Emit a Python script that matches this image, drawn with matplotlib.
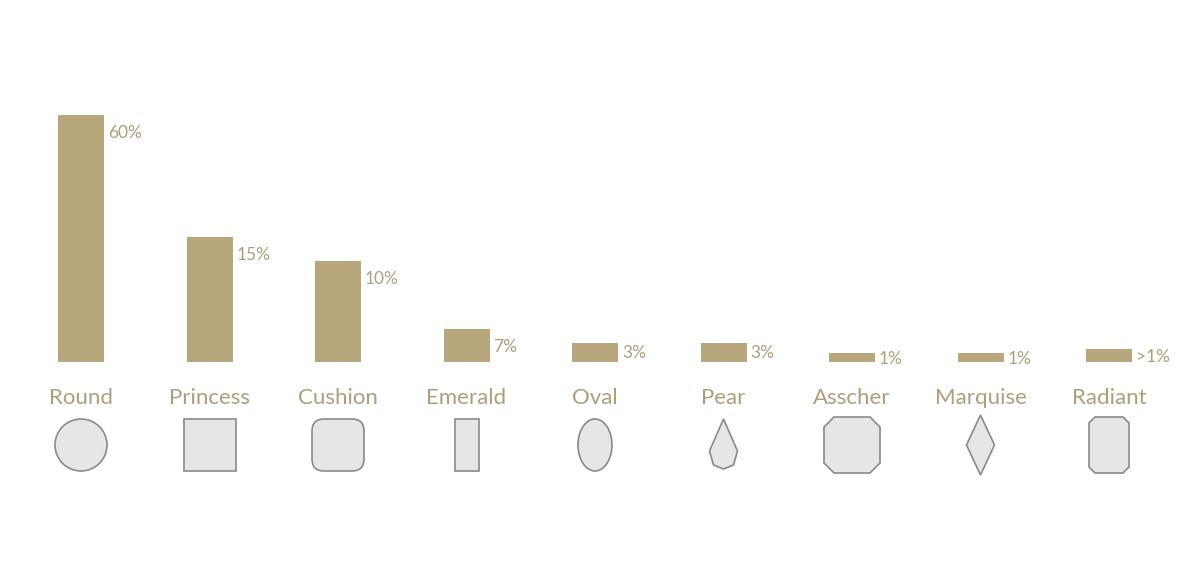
import matplotlib
matplotlib.use("Agg")
import matplotlib.pyplot as plt
from matplotlib import patches
import numpy as np

categories = ["Round", "Princess", "Cushion", "Emerald", "Oval", "Pear", "Asscher", "Marquise", "Radiant"]
bar_heights = [247, 125, 101, 33, 19, 19, 9, 9, 13]   # drawn bar lengths
value_labels = ["60%", "15%", "10%", "7%", "3%", "3%", "1%", "1%", ">1%"]
shapes = ["circle", "square", "cushion", "emerald", "oval", "pear", "asscher", "marquise", "radiant"]

BAR = "#b8a67c"
TXT = "#ad9f7a"
plt.rcParams['font.family'] = ['Lato', 'DejaVu Sans']

fig = plt.figure(figsize=(12, 5.8), dpi=100)
ax = fig.add_axes([0, 0, 1, 1])
ax.set_xlim(0, 1200); ax.set_ylim(580, 0); ax.axis("off")

base = 362
xs = 81 + np.arange(len(categories)) * 128.5
ax.bar(xs, [-h for h in bar_heights], bottom=base, width=46, color=BAR)

for x, h, lab, cat, shp in zip(xs, bar_heights, value_labels, categories, shapes):
    top = base - h
    ax.text(x + 27, top + min(18, h * 0.5 + 1), lab, fontsize=12.5, color=TXT,
            ha="left", va="center")
    ax.text(x, 398, cat, fontsize=16, color=TXT, ha="center", va="center")
    cy = 445
    kw = dict(facecolor="#e6e6e6", edgecolor="#8a8a8a", lw=1.2)
    if shp == "circle":
        p = patches.Circle((x, cy), 26, **kw)
    elif shp == "square":
        p = patches.Rectangle((x - 26, cy - 26), 52, 52, **kw)
    elif shp == "cushion":
        p = patches.FancyBboxPatch((x - 20, cy - 20), 40, 40, boxstyle="round,pad=6,rounding_size=12", **kw)
    elif shp == "emerald":
        p = patches.Rectangle((x - 12, cy - 26), 24, 52, **kw)
    elif shp == "oval":
        p = patches.Ellipse((x, cy), 34, 52, **kw)
    elif shp == "pear":
        p = patches.Polygon([(x, cy - 26), (x + 14, cy + 6), (x + 10, cy + 20), (x, cy + 24),
                             (x - 10, cy + 20), (x - 14, cy + 6)], closed=True, **kw)
    elif shp == "marquise":
        p = patches.Polygon([(x, cy - 30), (x + 14, cy), (x, cy + 30), (x - 14, cy)], closed=True, **kw)
    elif shp == "asscher":
        a = 28; c = 10
        p = patches.Polygon([(x - a + c, cy - a), (x + a - c, cy - a), (x + a, cy - a + c), (x + a, cy + a - c),
                             (x + a - c, cy + a), (x - a + c, cy + a), (x - a, cy + a - c), (x - a, cy - a + c)],
                            closed=True, **kw)
    else:
        w, hh, c = 20, 28, 6
        p = patches.Polygon([(x - w + c, cy - hh), (x + w - c, cy - hh), (x + w, cy - hh + c), (x + w, cy + hh - c),
                             (x + w - c, cy + hh), (x - w + c, cy + hh), (x - w, cy + hh - c), (x - w, cy - hh + c)],
                            closed=True, **kw)
    ax.add_patch(p)

fig.savefig("out.png", dpi=100, facecolor="white")
